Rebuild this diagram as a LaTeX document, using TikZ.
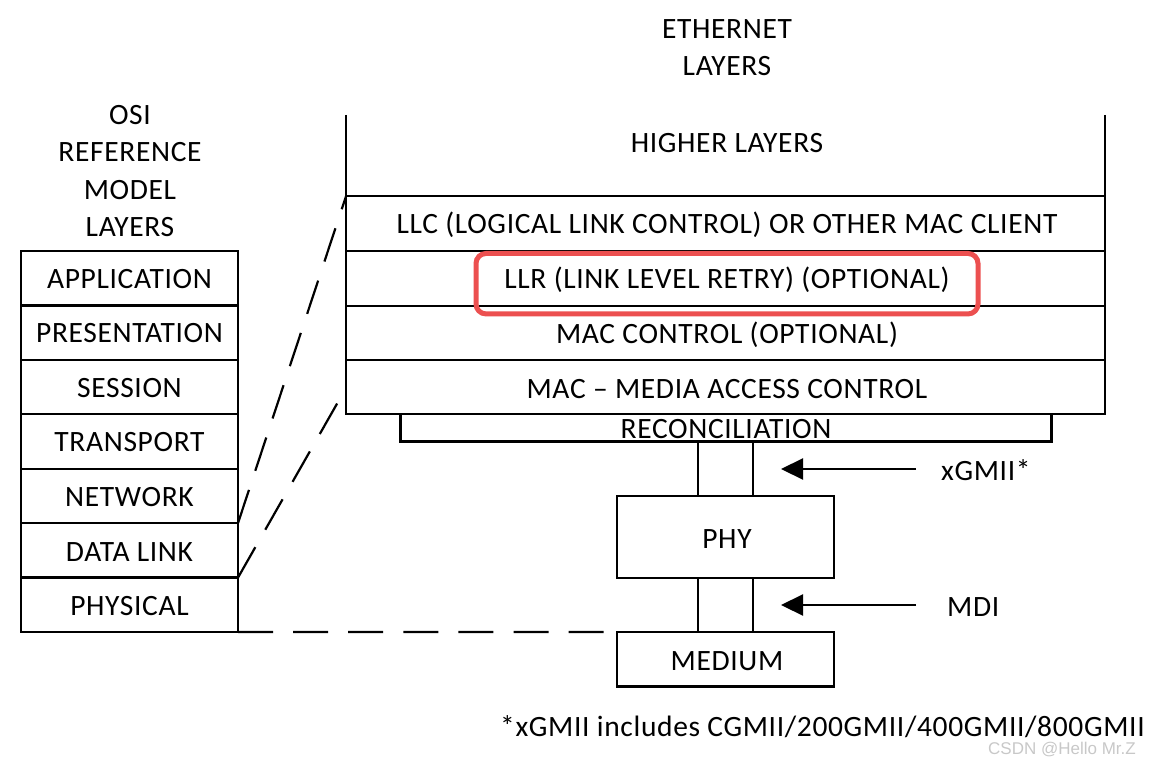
\documentclass[tikz,border=0pt]{standalone}
\usepackage{fontspec}
\setmainfont{Carlito}[LetterSpace=2.2]
\newfontfamily\wmfont{Liberation Sans}
\usetikzlibrary{arrows.meta,calc}
\definecolor{hlred}{RGB}{236,80,80}
\definecolor{wmgray}{RGB}{200,200,200}
\begin{document}
\begin{tikzpicture}[x=1pt,y=-1pt,
  every node/.style={font=\fontsize{29.5}{35}\selectfont},
  lw/.style={line width=2.2pt},
  osirow/.style={draw,lw,minimum width=217,minimum height=54.43,inner sep=0,outer sep=0},
  ethrow/.style={draw,lw,minimum width=759,minimum height=54.5,inner sep=0,outer sep=0},
  plainbox/.style={draw,lw,inner sep=0,outer sep=0},
  txt/.style={anchor=base,inner sep=0},
  txtw/.style={anchor=base west,inner sep=0},
  dashline/.style={lw,dash pattern=on 35pt off 20.1pt},
  arr/.style={lw,-{Triangle[length=22pt,width=21pt]}},
  hlbox/.style={draw=hlred,line width=5pt,rounded corners=10pt,inner sep=0,outer sep=0}
]
\useasboundingbox (0,0) rectangle (1173,757);

% ---------- OSI reference model ----------
\node[txt] (osiA) at (130,125) {OSI};
\node[txt] (osiB) at (130,162) {REFERENCE};
\node[txt] (osiC) at (130,199) {MODEL};
\node[txt] (osiD) at (130,236) {LAYERS};

\node[osirow] (app) at (129.5,278.2) {};
\node[osirow] (pres) at (129.5,332.6) {};
\node[osirow] (sess) at (129.5,387.1) {};
\node[osirow] (trans) at (129.5,441.5) {};
\node[osirow] (net) at (129.5,495.9) {};
\node[osirow] (dl) at (129.5,550.4) {};
\node[osirow] (phys) at (129.5,604.8) {};

\node[txt] at (129.5,288.5) {APPLICATION};
\node[txt] at (129.5,342.8) {PRESENTATION};
\node[txt] at (129.5,397.2) {SESSION};
\node[txt] at (129.5,451.6) {TRANSPORT};
\node[txt] at (129.5,506.2) {NETWORK};
\node[txt] at (129.5,561) {DATA LINK};
\node[txt] at (129.5,615) {PHYSICAL};

% ---------- Ethernet layers ----------
\node[txt] (ethA) at (727,39) {ETHERNET};
\node[txt] (ethB) at (727,76) {LAYERS};

\node[ethrow] (llc) at (725.5,223.5) {};
\node[ethrow] (llr) at (725.5,278.5) {};
\node[ethrow] (macc) at (725.5,333) {};
\node[ethrow] (mac) at (725.5,387) {};

\coordinate (hlTopL) at (346,115);
\coordinate (hlTopR) at (1105,115);
\draw[lw] (hlTopL) -- (llc.north west);
\draw[lw] (hlTopR) -- (llc.north east);

\node[txt] at (727,153) {HIGHER LAYERS};
\node[txt] at (727,233.5) {LLC (LOGICAL LINK CONTROL) OR OTHER MAC CLIENT};
\node[txt] at (727,288.5) {LLR (LINK LEVEL RETRY) (OPTIONAL)};
\node[txt] at (727,343.3) {MAC CONTROL (OPTIONAL)};
\node[txt] at (727,398.3) {MAC \textendash{} MEDIA ACCESS CONTROL};

\node[hlbox,minimum width=502,minimum height=60.5] (llrmark) at (727,283.7) {};

\node[plainbox,minimum width=651,minimum height=27.5] (rec) at (726,427.8) {};
\node[txt] at (726,438.4) {RECONCILIATION};

\node[plainbox,minimum width=217,minimum height=82] (phy) at (725.5,537) {};
\node[txt] at (727,548.3) {PHY};

\node[plainbox,minimum width=217,minimum height=54.5] (medium) at (725.5,659.2) {};
\node[txt] at (727,670.7) {MEDIUM};

\coordinate (xa) at (698,0);
\coordinate (xb) at (753,0);
\draw[lw] (rec.south -| xa) -- (phy.north -| xa);
\draw[lw] (rec.south -| xb) -- (phy.north -| xb);
\draw[lw] (phy.south -| xa) -- (medium.north -| xa);
\draw[lw] (phy.south -| xb) -- (medium.north -| xb);

% interface arrows
\coordinate (gmiiS) at (916,469);
\coordinate (gmiiE) at (781,469);
\coordinate (mdiS) at (916,605);
\coordinate (mdiE) at (781,605);
\draw[arr] (gmiiS) -- (gmiiE);
\draw[arr] (mdiS) -- (mdiE);
\node[txtw] (gmiilbl) at (941,480) {xGMII*};
\node[txtw] (mdilbl) at (947,616) {MDI};

% ---------- dashed correspondences ----------
\coordinate (dlEnd) at (338,402);
\draw[dashline] (net.south east) -- (llc.north west);
\draw[dashline] (dl.south east) -- (dlEnd);
\draw[dashline] (phys.south east) -- (medium.north west);

% footnote
\node[txtw,text depth=0pt] (note) at (500,736) {*xGMII includes CGMII/200GMII/400GMII/800GMII};
\node[txtw,text=wmgray,font=\wmfont\fontsize{17}{20}\selectfont] (wm) at (988,754) {CSDN @Hello Mr.Z};
\end{tikzpicture}
\end{document}
